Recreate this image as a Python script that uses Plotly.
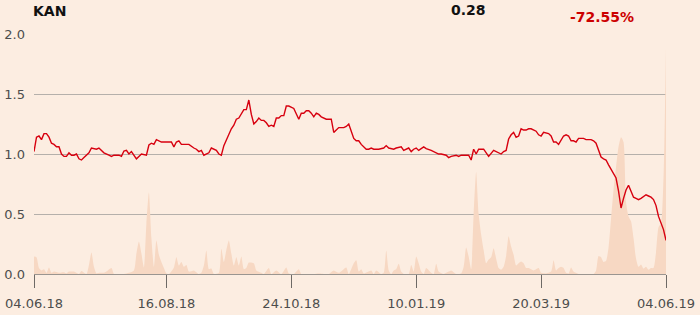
import plotly.graph_objects as go

# ---- data (trading-day index from 04.06.18) ----
price_day = [0,1,2,3,4,5,6,7,8,9,10,11,12,13,14,15,16,17,18,19,20,22,23,25,26,27,28,30,31,32,34,35,36,37,38,39,41,42,43,45,46,47,48,49,51,52,55,56,57,58,59,61,62,64,65,66,67,68,70,71,73,74,75,76,78,79,80,81,82,83,84,85,86,87,88,89,90,91,92,93,94,95,96,97,98,99,100,101,102,104,105,106,107,108,109,110,111,112,113,114,115,116,117,119,120,121,122,124,125,126,127,128,129,130,131,133,134,135,136,138,140,141,142,144,145,147,148,149,150,151,152,153,154,156,157,159,161,162,163,165,166,167,169,170,171,172,173,174,175,176,177,178,180,181,182,184,185,187,188,189,190,191,192,193,194,195,196,197,198,199,201,202,203,204,206,207,208,209,210,211,212,213,214,215,216,217,218,220,221,223,224,225,226,227,228,229,230,231,232,233,234,235,236,237,238,239,240,241,242,243,245,246,247,248,249,250,251,252,253]
price = [1.02,1.14,1.15,1.12,1.17,1.17,1.14,1.09,1.08,1.06,1.06,1.00,0.98,0.98,1.01,0.99,0.99,1.00,0.96,0.95,0.97,1.01,1.05,1.04,1.05,1.03,1.01,0.99,0.98,0.99,0.99,0.98,1.025,1.03,1.00,1.02,0.96,0.98,1.00,0.99,1.075,1.09,1.08,1.12,1.10,1.10,1.10,1.06,1.10,1.11,1.08,1.08,1.08,1.05,1.04,1.02,1.03,0.99,1.01,1.05,1.03,1.00,0.99,1.07,1.16,1.21,1.24,1.29,1.30,1.34,1.37,1.37,1.45,1.33,1.25,1.27,1.30,1.28,1.28,1.26,1.23,1.24,1.23,1.30,1.30,1.32,1.32,1.40,1.40,1.38,1.34,1.29,1.34,1.34,1.36,1.36,1.34,1.31,1.34,1.33,1.31,1.30,1.29,1.29,1.18,1.20,1.22,1.22,1.23,1.25,1.19,1.13,1.11,1.11,1.08,1.04,1.04,1.05,1.04,1.04,1.05,1.07,1.05,1.04,1.05,1.06,1.03,1.04,1.05,1.02,1.04,1.05,1.03,1.06,1.045,1.03,1.01,1.00,1.00,0.99,0.97,0.98,0.99,0.98,0.99,0.99,0.99,0.99,0.95,1.04,1.00,1.04,1.04,1.01,0.98,1.03,1.02,1.00,1.02,1.03,1.125,1.16,1.18,1.14,1.15,1.21,1.20,1.20,1.21,1.21,1.19,1.16,1.15,1.18,1.17,1.15,1.10,1.10,1.08,1.11,1.15,1.16,1.15,1.11,1.11,1.10,1.13,1.13,1.12,1.12,1.11,1.09,1.025,0.975,0.96,0.95,0.91,0.87,0.84,0.80,0.69,0.55,0.63,0.70,0.74,0.69,0.64,0.63,0.62,0.63,0.66,0.65,0.64,0.62,0.57,0.48,0.42,0.37,0.28]

vol_day = [0,1,2,3,4,5,6,7,8,10,12,13,14,16,18,19,21,22,23,24,25,26,28,29,31,32,33,36,38,40,41,42,43,44,45,46,47,48,49,50,51,52,53,54,56,57,58,59,60,61,62,64,66,67,68,69,70,71,72,74,75,76,77,78,79,80,81,82,83,84,85,86,88,89,91,92,94,95,97,99,101,102,104,106,107,109,112,114,117,118,120,122,125,126,128,129,130,131,132,135,136,137,139,140,141,142,143,144,145,146,147,148,150,151,152,153,154,155,156,157,159,160,161,162,164,166,167,169,171,172,173,174,175,176,177,178,179,180,181,182,183,184,185,186,187,188,189,190,191,192,193,194,195,196,197,198,199,200,202,203,205,207,208,209,210,211,212,213,214,215,216,218,221,224,225,226,227,228,229,230,231,232,233,234,235,236,237,238,239,240,241,242,243,244,245,246,247,248,249,250,251,252,253]
volume = [0.145,0.14,0.05,0.03,0.04,0.01,0.055,0.01,0.02,0.01,0.015,0.005,0.02,0.02,0.0,0.025,0.0,0.075,0.18,0.06,0.005,0.01,0.01,0.02,0.05,0.0,0.0,0.0,0.01,0.03,0.17,0.27,0.17,0.055,0.42,0.68,0.3,0.06,0.28,0.16,0.10,0.05,0.005,0.0,0.055,0.14,0.07,0.10,0.06,0.075,0.02,0.03,0.0,0.01,0.07,0.195,0.04,0.045,0.0,0.01,0.21,0.10,0.20,0.28,0.17,0.07,0.14,0.07,0.145,0.04,0.05,0.095,0.09,0.03,0.01,0.0,0.05,0.0,0.03,0.0,0.055,0.005,0.0,0.04,0.0,0.0,0.0,0.005,0.0,0.0,0.03,0.01,0.055,0.0,0.09,0.115,0.02,0.04,0.005,0.03,0.0,0.03,0.0,0.01,0.195,0.03,0.0,0.03,0.04,0.085,0.02,0.0,0.0,0.075,0.02,0.145,0.09,0.02,0.0,0.05,0.01,0.0,0.085,0.02,0.0,0.02,0.03,0.0,0.005,0.06,0.22,0.145,0.04,0.5,0.85,0.5,0.33,0.2,0.09,0.12,0.14,0.215,0.13,0.05,0.035,0.06,0.15,0.315,0.23,0.16,0.07,0.09,0.105,0.09,0.05,0.05,0.04,0.03,0.05,0.01,0.005,0.02,0.115,0.03,0.05,0.06,0.05,0.01,0.005,0.055,0.02,0.0,0.0,0.0,0.03,0.15,0.14,0.10,0.11,0.22,0.46,0.70,0.89,1.06,1.14,1.10,0.6,0.48,0.44,0.30,0.13,0.06,0.08,0.045,0.06,0.035,0.05,0.05,0.18,0.39,0.42,0.8,1.88]

tick_days = [0, 53, 103, 153, 203, 253]
tick_labels = ["04.06.18", "16.08.18", "24.10.18", "10.01.19", "20.03.19", "04.06.19"]
y_ticks = [0.0, 0.5, 1.0, 1.5, 2.0]

ticker = "KAN"
last_value = price[-1]
change_pct = (price[-1] / price[0] - 1) * 100

BG = "#fcede1"
GRID = "#b5b0ab"
TXT = "#4d4d4d"
RED = "#d7000f"
FONT = "DejaVu Sans"

fig = go.Figure()
fig.add_trace(go.Scatter(
    x=vol_day, y=volume, mode="lines", line=dict(width=0, shape="spline", smoothing=0.6),
    fill="tozeroy", fillcolor="#f7d8c3", hoverinfo="skip"))
fig.add_trace(go.Scatter(
    x=price_day, y=price, mode="lines", line=dict(color=RED, width=1.4)))

fig.update_layout(
    width=700, height=315,
    margin=dict(l=34, r=34, t=34, b=41, autoexpand=False),
    paper_bgcolor=BG, plot_bgcolor=BG,
    showlegend=False,
    font=dict(family=FONT, size=13, color=TXT),
    xaxis=dict(range=[0, 253], tickvals=tick_days, ticktext=tick_labels,
               automargin=False,
               showgrid=False, zeroline=False, showline=True, linecolor="#9a9590",
               linewidth=1, ticks="outside", ticklen=13, tickcolor="#6e6a66", tickwidth=1,
               ticklabelstandoff=4,
               tickfont=dict(size=13, color=TXT, family=FONT)),
    yaxis=dict(range=[0, 2.0001], tickvals=y_ticks, tickformat=".1f",
               automargin=False,
               showgrid=True, gridcolor=GRID, gridwidth=1, zeroline=False,
               showline=False, ticks="", ticklabelstandoff=8,
               tickfont=dict(size=13, color=TXT, family=FONT)),
    annotations=[
        dict(text=f"<b>{ticker}</b>", xref="paper", yref="paper", x=-0.005, y=1.096,
             xanchor="left", yanchor="middle", showarrow=False,
             font=dict(size=14, color="#111111", family=FONT)),
        dict(text=f"<b>{last_value:.2f}</b>", xref="paper", yref="paper", x=0.687, y=1.1,
             xanchor="center", yanchor="middle", showarrow=False,
             font=dict(size=14, color="#111111", family=FONT)),
        dict(text=f"<b>{change_pct:.2f}%</b>", xref="paper", yref="paper", x=0.899, y=1.072,
             xanchor="center", yanchor="middle", showarrow=False,
             font=dict(size=14, color="#cc0000", family=FONT)),
    ],
)

fig.write_html("out.html")
